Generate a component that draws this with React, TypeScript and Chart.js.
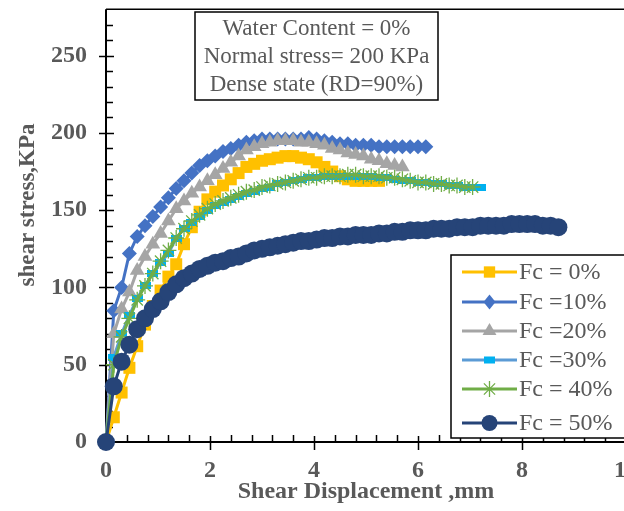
import React, { useEffect, useRef } from 'react';
import { Chart, registerables } from 'chart.js';

Chart.register(...registerables);

// ---------- data ----------
const displacement = [0, 0.15, 0.3, 0.45, 0.6, 0.75, 0.9, 1.05, 1.2, 1.35, 1.5, 1.65, 1.8, 1.95, 2.1, 2.25, 2.4, 2.55, 2.7, 2.85, 3, 3.15, 3.3, 3.45, 3.6, 3.75, 3.9, 4.05, 4.2, 4.35, 4.5, 4.65, 4.8, 4.95, 5.1, 5.25, 5.4, 5.55, 5.7, 5.85, 6, 6.15, 6.3, 6.45, 6.6, 6.75, 6.9, 7.05, 7.2, 7.35, 7.5, 7.65, 7.8, 7.95, 8.1, 8.25, 8.4, 8.55, 8.7];

const fc0 = [0, 16, 32, 48, 62, 76, 88, 98, 107, 115, 128, 139, 149, 157, 162, 166, 170, 174, 178, 180, 182, 183, 184, 185, 185, 184, 183, 181, 178, 175, 172, 170, 169, 169, 169, 169];
const fc10 = [0, 85, 100, 122, 133, 140, 146, 152, 158, 164, 169, 174, 179, 182, 185, 188, 190, 192, 194, 195, 196, 196, 196, 196, 196, 196, 197, 196, 195, 194, 193, 193, 192, 192, 192, 191, 191, 191, 191, 191, 191, 191];
const fc20 = [0, 70, 86, 97, 111, 120, 128, 135, 143, 151, 156, 161, 165, 169, 173, 177, 181, 185, 189, 191, 193, 194, 195, 195, 195, 194, 194, 193, 192, 190, 189, 187, 186, 185, 183, 182, 180, 179, 178];
const fc30 = [0, 55, 70, 82, 93, 101, 109, 116, 122, 132, 138, 142, 146, 150, 153, 155, 157, 159, 161, 162, 164, 165, 167, 168, 169, 170, 171, 171, 172, 172, 172, 172, 172, 172, 172, 171, 171, 170, 169, 169, 168, 168, 167, 167, 166, 166, 165, 165, 165];
const fc40 = [0, 50, 68, 80, 92, 101, 109, 117, 124, 132, 138, 143, 147, 151, 154, 156, 158, 160, 162, 163, 165, 166, 167, 168, 169, 170, 171, 171, 172, 172, 172, 173, 173, 172, 172, 172, 171, 171, 170, 169, 168, 168, 167, 167, 166, 166, 165, 165];
const fc50 = [0, 36, 52, 63, 73, 80, 86, 91, 97, 102, 106, 109, 112, 114, 116, 117, 119, 120, 122, 124, 125, 126, 127, 128, 129, 130, 130, 131, 132, 132, 133, 133, 134, 134, 134, 135, 135, 136, 136, 137, 137, 137, 138, 138, 138, 139, 139, 139, 140, 140, 140, 140, 141, 141, 141, 141, 140, 140, 139];

const seriesLabels = ['Fc = 0%', 'Fc =10%', 'Fc =20%', 'Fc =30%', 'Fc = 40%', 'Fc = 50%'];
const annotationLines = ['Water Content = 0%', 'Normal stress= 200 KPa', 'Dense state (RD=90%)'];

const xMin = 0;
const xMax = 10;
const xMajorStep = 2;
const xMinorStep = 0.4;
const yMin = 0;
const yMax = 280;
const yMajorStep = 50;
const yMinorStep = 10;

const xTitle = 'Shear Displacement ,mm';
const yTitle = 'shear stress,KPa';

// ---------- style ----------
const FONT = "'Liberation Serif', 'Times New Roman', serif";
const GRAY_TEXT = '#595959';

type Style = { line: string; fill: string; marker: string; radius: number };
const styles: Style[] = [
  { line: '#FFC000', fill: '#FFC000', marker: 'rect', radius: 8.5 },
  { line: '#4472C4', fill: '#4472C4', marker: 'rectRot', radius: 7.5 },
  { line: '#A5A5A5', fill: '#A5A5A5', marker: 'triangle', radius: 8.5 },
  { line: '#5B9BD5', fill: '#00B0F0', marker: 'dash', radius: 5 },
  { line: '#70AD47', fill: '#70AD47', marker: 'star', radius: 8 },
  { line: '#264478', fill: '#264478', marker: 'circle', radius: 9 },
];

function makeDash(color: string): HTMLCanvasElement {
  const c = document.createElement('canvas');
  c.width = 11;
  c.height = 7;
  const g = c.getContext('2d')!;
  g.fillStyle = color;
  g.fillRect(0, 0, 11, 7);
  return c;
}

function drawMarker(ctx: CanvasRenderingContext2D, s: Style, x: number, y: number) {
  const r = s.radius;
  ctx.save();
  ctx.fillStyle = s.fill;
  ctx.strokeStyle = s.fill;
  ctx.beginPath();
  switch (s.marker) {
    case 'rect': {
      const h = r * Math.SQRT1_2;
      ctx.fillRect(x - h, y - h, 2 * h, 2 * h);
      break;
    }
    case 'rectRot':
      ctx.moveTo(x, y - r);
      ctx.lineTo(x + r * 0.8, y);
      ctx.lineTo(x, y + r);
      ctx.lineTo(x - r * 0.8, y);
      ctx.closePath();
      ctx.fill();
      break;
    case 'triangle':
      ctx.moveTo(x, y - r);
      ctx.lineTo(x + r * 0.87, y + r * 0.5);
      ctx.lineTo(x - r * 0.87, y + r * 0.5);
      ctx.closePath();
      ctx.fill();
      break;
    case 'dash':
      ctx.fillRect(x - 5.5, y - 3.5, 11, 7);
      break;
    case 'star':
      ctx.lineWidth = 1.3;
      ctx.moveTo(x - r * 0.7, y - r * 0.7);
      ctx.lineTo(x + r * 0.7, y + r * 0.7);
      ctx.moveTo(x + r * 0.7, y - r * 0.7);
      ctx.lineTo(x - r * 0.7, y + r * 0.7);
      ctx.moveTo(x, y - r);
      ctx.lineTo(x, y + r);
      ctx.stroke();
      break;
    default:
      ctx.arc(x, y, r, 0, Math.PI * 2);
      ctx.fill();
  }
  ctx.restore();
}

const CANVAS_W = 680;
const CANVAS_H = 511;

const framePlugin = {
  id: 'frame',
  beforeDatasetsDraw(chart: any) {
    const { ctx, chartArea: a, scales } = chart;
    const xs = scales.x;
    const ys = scales.y;
    ctx.save();
    ctx.strokeStyle = '#000';
    ctx.lineWidth = 1.5;
    ctx.beginPath();
    ctx.moveTo(a.left, a.top);
    ctx.lineTo(a.right, a.top);
    ctx.lineTo(a.right, a.bottom);
    ctx.stroke();
    ctx.lineWidth = 2;
    ctx.beginPath();
    ctx.moveTo(a.left, a.top);
    ctx.lineTo(a.left, a.bottom);
    ctx.lineTo(a.right, a.bottom);
    ctx.stroke();
    ctx.lineWidth = 1.5;
    ctx.beginPath();
    for (let v = yMin; v <= yMax + 1e-9; v += yMinorStep) {
      const py = Math.round(ys.getPixelForValue(v)) + 0.5;
      if (Math.abs(v % yMajorStep) < 1e-9) {
        ctx.moveTo(a.left - 7, py);
        ctx.lineTo(a.left + 8, py);
      } else if (v < yMax) {
        ctx.moveTo(a.left, py);
        ctx.lineTo(a.left + 7, py);
      }
    }
    for (let i = 0; i * xMinorStep <= xMax + 1e-9; i++) {
      const v = i * xMinorStep;
      const px = Math.round(xs.getPixelForValue(v)) + 0.5;
      if (i % 5 === 0) {
        ctx.moveTo(px, a.bottom - 6);
        ctx.lineTo(px, a.bottom + 8);
      } else {
        ctx.moveTo(px, a.bottom - 7);
        ctx.lineTo(px, a.bottom);
      }
    }
    ctx.stroke();
    ctx.restore();
  },
  afterDraw(chart: any) {
    const { ctx } = chart;
    ctx.save();
    // y axis title
    ctx.save();
    ctx.translate(28, 205);
    ctx.rotate(-Math.PI / 2);
    ctx.fillStyle = GRAY_TEXT;
    ctx.font = `bold 23px ${FONT}`;
    ctx.textAlign = 'center';
    ctx.textBaseline = 'middle';
    ctx.fillText(yTitle, 0, 0);
    ctx.restore();

    // annotation box
    ctx.fillStyle = '#fff';
    ctx.fillRect(195, 12, 243, 88);
    ctx.strokeStyle = '#000';
    ctx.lineWidth = 1.5;
    ctx.strokeRect(195, 12, 243, 88);
    ctx.fillStyle = GRAY_TEXT;
    ctx.font = `23px ${FONT}`;
    ctx.textAlign = 'center';
    ctx.textBaseline = 'alphabetic';
    const baselines = [35, 63, 91];
    annotationLines.forEach((t, i) => ctx.fillText(t, 316.5, baselines[i]));

    // legend box
    ctx.fillStyle = '#fff';
    ctx.fillRect(451, 255, 240, 183);
    ctx.strokeStyle = '#000';
    ctx.lineWidth = 1.5;
    ctx.strokeRect(451, 255, 240, 183);
    const rows = [272, 302, 331, 360, 389, 423];
    ctx.font = `24px ${FONT}`;
    ctx.textAlign = 'left';
    ctx.textBaseline = 'middle';
    chart.data.datasets.forEach((ds: any, i: number) => {
      const s = styles[i];
      const ry = rows[i];
      ctx.strokeStyle = s.line;
      ctx.lineWidth = 3;
      ctx.beginPath();
      ctx.moveTo(462, ry);
      ctx.lineTo(517, ry);
      ctx.stroke();
      drawMarker(ctx, { ...s, radius: Math.min(s.radius, 8) }, 489.5, ry);
      ctx.fillStyle = GRAY_TEXT;
      ctx.fillText(ds.label, 519, ry + 1);
    });
    ctx.restore();
  },
};

function zeroPadding(scale: any) {
  scale.paddingTop = 0;
  scale.paddingBottom = 0;
  scale.paddingLeft = 0;
  scale.paddingRight = 0;
}

export default function App() {
  const ref = useRef<HTMLCanvasElement>(null);

  useEffect(() => {
    if (!ref.current) return;
    const series = [fc0, fc10, fc20, fc30, fc40, fc50];
    const drawOrder = [6, 5, 4, 3, 2, 1];
    const datasets = series.map((ys, i) => {
      const s = styles[i];
      return {
        label: seriesLabels[i],
        data: ys.map((v, j) => ({ x: displacement[j], y: v })),
        borderColor: s.line,
        backgroundColor: s.fill,
        borderWidth: 3,
        pointStyle: s.marker === 'dash' ? makeDash(s.fill) : s.marker,
        pointRadius: s.radius,
        pointHoverRadius: s.radius,
        pointBackgroundColor: s.fill,
        pointBorderColor: s.fill,
        pointBorderWidth: s.marker === 'star' ? 1.3 : 0,
        tension: 0,
        order: drawOrder[i],
        clip: false as any,
      };
    });

    const chart = new Chart(ref.current, {
      type: 'line',
      data: { datasets },
      plugins: [framePlugin],
      options: {
        animation: false,
        responsive: false,
        devicePixelRatio: 1,
        layout: { padding: { left: 0, top: 7, right: CANVAS_W - 626, bottom: 0 } },
        plugins: { legend: { display: false }, tooltip: { enabled: false } },
        scales: {
          x: {
            type: 'linear',
            min: xMin,
            max: xMax,
            grid: { display: false, drawTicks: false },
            border: { display: false },
            ticks: {
              stepSize: xMajorStep,
              color: GRAY_TEXT,
              font: { family: FONT, size: 24, weight: 'bold' },
              padding: 14,
              maxRotation: 0,
            },
            title: {
              display: true,
              text: xTitle,
              color: GRAY_TEXT,
              font: { family: FONT, size: 24, weight: 'bold' },
              padding: { top: 0, bottom: 5 },
            },
            afterFit: (scale: any) => {
              scale.height = CANVAS_H - 442;
              zeroPadding(scale);
            },
          },
          y: {
            type: 'linear',
            min: yMin,
            max: yMax,
            grid: { display: false, drawTicks: false },
            border: { display: false },
            ticks: {
              stepSize: yMajorStep,
              color: GRAY_TEXT,
              font: { family: FONT, size: 24, weight: 'bold' },
              padding: 19,
              includeBounds: false,
            },
            afterBuildTicks: (scale: any) => {
              scale.ticks = scale.ticks.filter((t: any) => t.value % yMajorStep === 0);
            },
            title: { display: false },
            afterFit: (scale: any) => {
              scale.width = 106;
              zeroPadding(scale);
            },
          },
        },
      } as any,
    });
    return () => chart.destroy();
  }, []);

  return (
    <div style={{ position: 'fixed', left: 0, top: 0, width: 624, height: 511, overflow: 'hidden', background: '#fff' }}>
      <canvas ref={ref} width={CANVAS_W} height={CANVAS_H} style={{ display: 'block', width: CANVAS_W, height: CANVAS_H }} />
    </div>
  );
}
